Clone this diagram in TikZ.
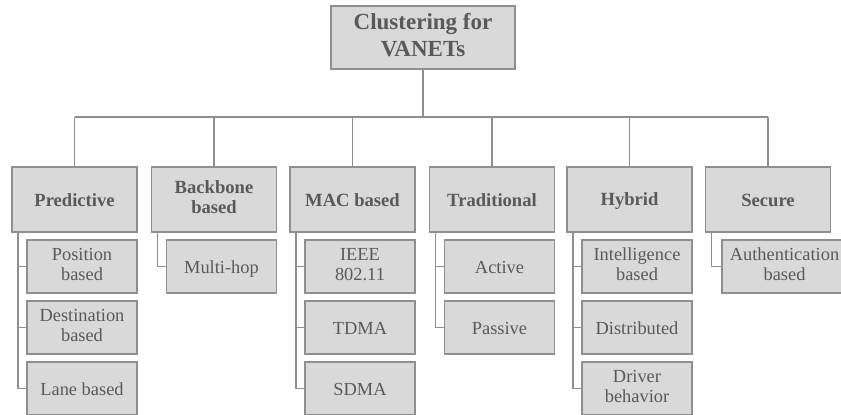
\documentclass[tikz,border=0pt]{standalone}
\usepackage{fontspec}
\setmainfont{Liberation Serif}
\definecolor{boxfill}{HTML}{D9D9D9}
\definecolor{boxline}{HTML}{8F8F8F}
\definecolor{txt}{HTML}{595959}
\tikzset{
  base/.style={draw=boxline, fill=boxfill, line width=1.2pt, text=txt,
    align=center, inner sep=0pt, execute at end node=\vphantom{p}},
  rootbox/.style={base, minimum width=184pt, minimum height=63pt,
    font=\fontsize{23}{27}\selectfont\bfseries,
    execute at begin node=\rule{0pt}{22pt}},
  catbox/.style={base, minimum width=125pt, minimum height=65pt,
    font=\fontsize{18.6}{20}\selectfont\bfseries,
    execute at begin node=\rule{0pt}{17pt}},
  subbox/.style={base, minimum width=110pt, minimum height=53pt,
    font=\fontsize{18.4}{20}\selectfont,
    execute at begin node=\rule{0pt}{17pt}},
  link/.style={draw=boxline, line width=1.2pt},
}
\begin{document}
\begin{tikzpicture}[x=1pt, y=-1pt]
\useasboundingbox (0,0) rectangle (841,415);
\clip (0,0) rectangle (841,414.2);

% root
\node[rootbox] (root) at (423,37.5) {Clustering for\\VANETs};

% categories
\node[catbox] (pred) at (74.5,199.5) {Predictive};
\node[catbox] (back) at (214,199.5) {Backbone\\based};
\node[catbox] (mac)  at (352.5,199.5) {MAC based};
\node[catbox] (trad) at (492,199.5) {Traditional};
\node[catbox] (hyb)  at (629.5,199.5) {Hybrid};
\node[catbox] (sec)  at (768,199.5) {Secure};

% sub-categories
\node[subbox] (p1) at (82,266.5) {Position\\based};
\node[subbox] (p2) at (82,327.5) {Destination\\based};
\node[subbox] (p3) at (82,388.5) {Lane based};
\node[subbox] (b1) at (221.5,266.5) {Multi-hop};
\node[subbox] (m1) at (360,266.5) {IEEE\\802.11};
\node[subbox] (m2) at (360,327.5) {TDMA};
\node[subbox] (m3) at (360,388.5) {SDMA};
\node[subbox] (t1) at (499.5,266.5) {Active};
\node[subbox] (t2) at (499.5,327.5) {Passive};
\node[subbox] (h1) at (637,266.5) {Intelligence\\based};
\node[subbox] (h2) at (637,327.5) {Distributed};
\node[subbox] (h3) at (637,388.5) {Driver\\behavior};
\node[subbox, minimum width=125pt] (s1) at (784.5,266.5) {Authentication\\based};

% trunk and bus
\coordinate (bus) at (423,117);
\draw[link] (root.south) -- (bus);
\draw[link] (pred.north |- bus) -- (sec.north |- bus);
\foreach \c in {pred,back,mac,trad,hyb,sec}
  \draw[link] (\c.north) -- (\c.north |- bus);

% branches to sub-categories
\foreach \c/\subs in {pred/{p1,p2,p3}, back/{b1}, mac/{m1,m2,m3},
                      trad/{t1,t2}, hyb/{h1,h2,h3}, sec/{s1}} {
  \coordinate (\c-rail) at ([xshift=6.5pt]\c.south west);
  \foreach \s in \subs
    \draw[link] (\c-rail) |- (\s.west);
}
\end{tikzpicture}
\end{document}
